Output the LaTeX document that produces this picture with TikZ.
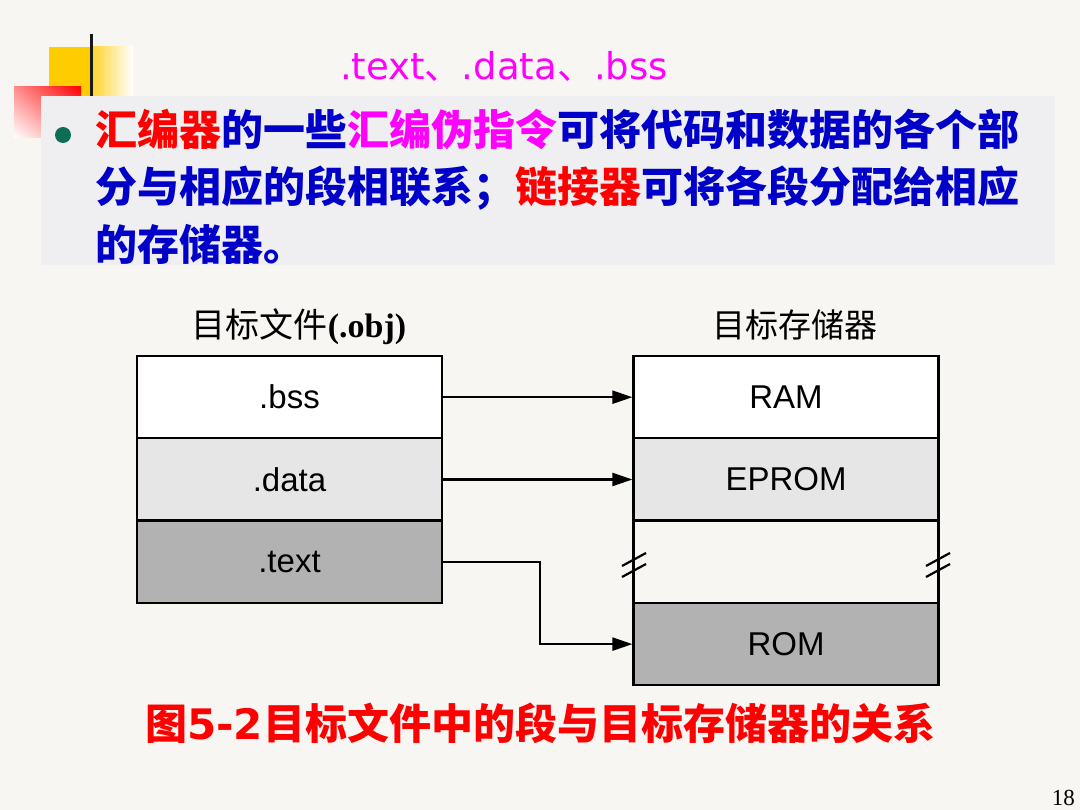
\documentclass[tikz,border=0pt]{standalone}
\usepackage{fontspec}
\setmainfont{Liberation Sans}
\newfontfamily\cjk{Noto Sans CJK SC}
\newfontfamily\dejavu{DejaVu Sans}
\newfontfamily\tnr{Liberation Serif}
\usetikzlibrary{arrows.meta,shadings}
\definecolor{bg}{RGB}{248,246,242}
\definecolor{boxbg}{RGB}{239,239,241}
\definecolor{tred}{RGB}{255,0,0}
\definecolor{tblue}{RGB}{0,0,200}
\definecolor{tmag}{RGB}{255,0,255}
\definecolor{bulletgreen}{RGB}{14,110,85}
\definecolor{yel}{RGB}{255,204,0}
\definecolor{segdata}{RGB}{230,230,230}
\definecolor{segtext}{RGB}{178,178,178}
\tikzset{
  seg/.style={draw=black, line width=2.2pt, minimum width=305pt, minimum height=82.5pt,
    inner sep=0pt, font=\fontsize{33}{33}\selectfont},
  conn/.style={line width=2.3pt, -{Triangle[length=20pt,width=13pt]}},
  brk/.style={line width=2.2pt},
  bodytext/.style={anchor=base west, inner sep=0pt, font=\cjk\bfseries\fontsize{42}{42}\selectfont}
}
\begin{document}
\begin{tikzpicture}[x=1pt,y=-1pt]
\useasboundingbox (0,0) rectangle (1080,810);
\fill[bg] (0,0) rectangle (1080,810);
% decoration
\fill[yel] (49,47) rectangle (91,120);
\shade[left color=yel!85!white, right color=white] (91,47) rectangle (133,120);
\shade[upper right=red, lower left=white, upper left=red!45!white, lower right=red!45!white] (14,87) rectangle (81,138);
\draw[line width=3pt, black!90] (91,34) -- (91,100);
% text box
\fill[boxbg] (41,96) rectangle (1055,265);
\fill[bulletgreen] (63,135) circle (8);
% title
\node[anchor=base west, inner sep=0pt, text=tmag, font=\dejavu\fontsize{37}{37}\selectfont] (title) at (340,80) {.text{\cjk 、}.data{\cjk 、}.bss};
% body
\node[bodytext] (l1) at (95,146) {{\color{tred}汇编器}{\color{tblue}的一些}{\color{tmag}汇编伪指令}{\color{tblue}可将代码和数据的各个部}};
\node[bodytext] (l2) at (95,203) {{\color{tblue}分与相应的段相联系；}{\color{tred}链接器}{\color{tblue}可将各段分配给相应}};
\node[bodytext] (l3) at (95,261) {{\color{tblue}的存储器。}};
% labels
\node[anchor=base, inner sep=0pt, font=\fontsize{34}{34}\selectfont] (lab1) at (299,338) {{\cjk 目标文件}{\tnr\bfseries(.obj)}};
\node[anchor=base, inner sep=0pt, font=\cjk\fontsize{33}{33}\selectfont] (lab2) at (795,338) {目标存储器};
% left column
\node[seg, fill=white] (bss) at (289.5,397.2) {.bss};
\node[seg, fill=segdata] (data) at (289.5,479.5) {.data};
\node[seg, fill=segtext] (text) at (289.5,561.8) {.text};
% right column
\node[seg, fill=white] (ram) at (786,397.2) {RAM};
\node[seg, fill=segdata] (eprom) at (786,479.5) {EPROM};
\node[seg] (gap) at (786,561.8) {};
\node[seg, fill=segtext] (rom) at (786,644.1) {ROM};
% break marks
\draw[brk] (622,566) -- (646,553);
\draw[brk] (622,577) -- (646,564);
\draw[brk] (926,566) -- (950,553);
\draw[brk] (926,577) -- (950,564);
% connectors
\draw[conn] (bss.east) -- (ram.west);
\draw[conn] (data.east) -- (eprom.west);
\draw[conn] (text.east) -- ++(97,0) |- (rom.west);
% caption
\node[anchor=base west, inner sep=0pt, text=tred, font=\bfseries\fontsize{42}{42}\selectfont] (cap) at (145,739) {{\cjk 图}{\dejavu 5-2}{\cjk 目标文件中的段与目标存储器的关系}};
% page number
\node[anchor=base east, inner sep=0pt, font=\tnr\fontsize{23}{23}\selectfont] (pg) at (1075,805) {18};
\end{tikzpicture}
\end{document}
